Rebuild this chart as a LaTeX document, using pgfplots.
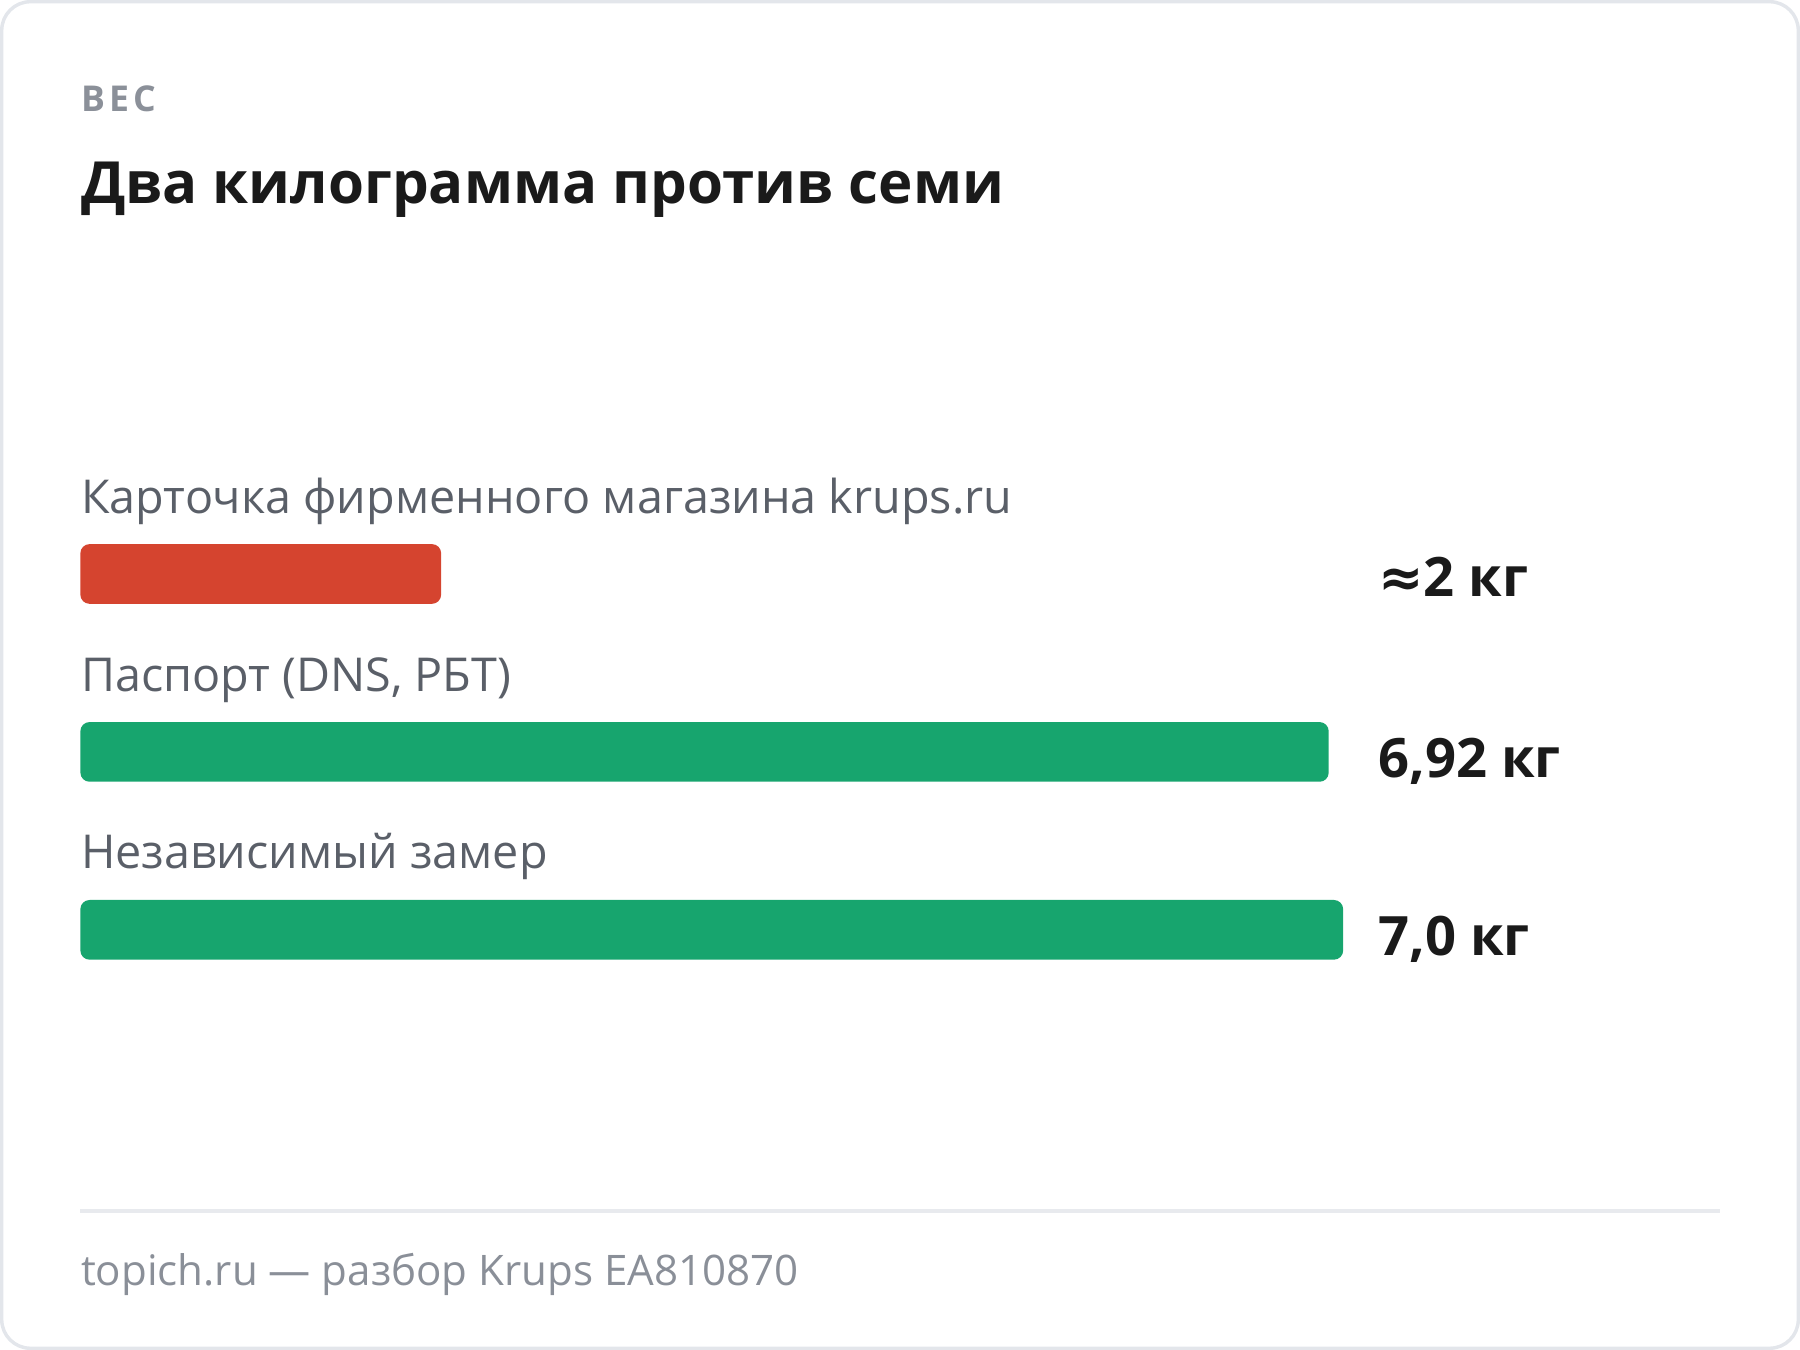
\documentclass[border=0pt]{standalone}
\usepackage{fontspec}
\setmainfont{Open Sans}
\newfontfamily\spaced[LetterSpace=12]{Open Sans}
\newfontfamily\sym{DejaVu Sans}
\usepackage{pgfplots}
\pgfplotsset{compat=1.18}

\definecolor{barred}{HTML}{D5442F}
\definecolor{bargreen}{HTML}{17A56E}
\definecolor{labgray}{HTML}{5A5F68}
\definecolor{kicker}{HTML}{8B9099}
\definecolor{foot}{HTML}{8A8F98}
\definecolor{ink}{HTML}{1A1A1A}
\definecolor{frame}{HTML}{E3E6EB}
\definecolor{rule}{HTML}{E8EAEE}

% position in pixels of the 1568x1176 card
\newcommand\px[2]{(rel axis cs:{#1/1568},{1-#2/1176})}

\begin{document}
\begin{tikzpicture}
\draw[frame, line width=0.9pt, rounded corners=7.5pt]
  (0.45pt,0.45pt) rectangle (469.95pt,352.35pt);
\begin{axis}[
  scale only axis, width=470.4pt, height=352.8pt,
  at={(0,0)}, anchor=south west,
  hide axis, clip=false,
  xmin=-0.44545, xmax=9.5327,
  ymin=0, ymax=1176,
  xbar, bar width=15.6pt, bar shift=0pt,
]
% weights in kg; y = row position
\addplot[draw=none, fill=barred, rounded corners=2.4pt] coordinates {(2.0,676)};
\addplot[draw=none, fill=bargreen, rounded corners=2.4pt] coordinates {(6.92,521)};
\addplot[draw=none, fill=bargreen, rounded corners=2.4pt] coordinates {(7.0,366)};

\node[anchor=base west, inner sep=0, text=kicker, font=\spaced\bfseries\fontsize{9.3}{11}\selectfont] at \px{70}{97} {ВЕС};
\node[anchor=base west, inner sep=0, text=ink, font=\bfseries\fontsize{15.2}{19}\selectfont] at \px{70}{177} {Два килограмма против семи};

\node[anchor=base west, inner sep=0, text=labgray, font=\fontsize{12.2}{14}\selectfont] at \px{70}{447} {Карточка фирменного магазина krups.ru};
\node[anchor=base west, inner sep=0, text=labgray, font=\fontsize{12.2}{14}\selectfont] at \px{70}{602} {Паспорт (DNS, РБТ)};
\node[anchor=base west, inner sep=0, text=labgray, font=\fontsize{12.2}{14}\selectfont] at \px{70}{757} {Независимый замер};

\node[anchor=base west, inner sep=0, text=ink, font=\bfseries\fontsize{14.2}{17}\selectfont] at \px{1200}{520} {{\sym\bfseries ≈}2 кг};
\node[anchor=base west, inner sep=0, text=ink, font=\bfseries\fontsize{14.2}{17}\selectfont] at \px{1200}{677} {6,92 кг};
\node[anchor=base west, inner sep=0, text=ink, font=\bfseries\fontsize{14.2}{17}\selectfont] at \px{1200}{832} {7,0 кг};

\draw[rule, line width=0.9pt] \px{70}{1055} -- \px{1498}{1055};
\node[anchor=base west, inner sep=0, text=foot, font=\fontsize{11}{13}\selectfont] at \px{70}{1120} {topich.ru — разбор Krups EA810870};
\end{axis}
\end{tikzpicture}
\end{document}
